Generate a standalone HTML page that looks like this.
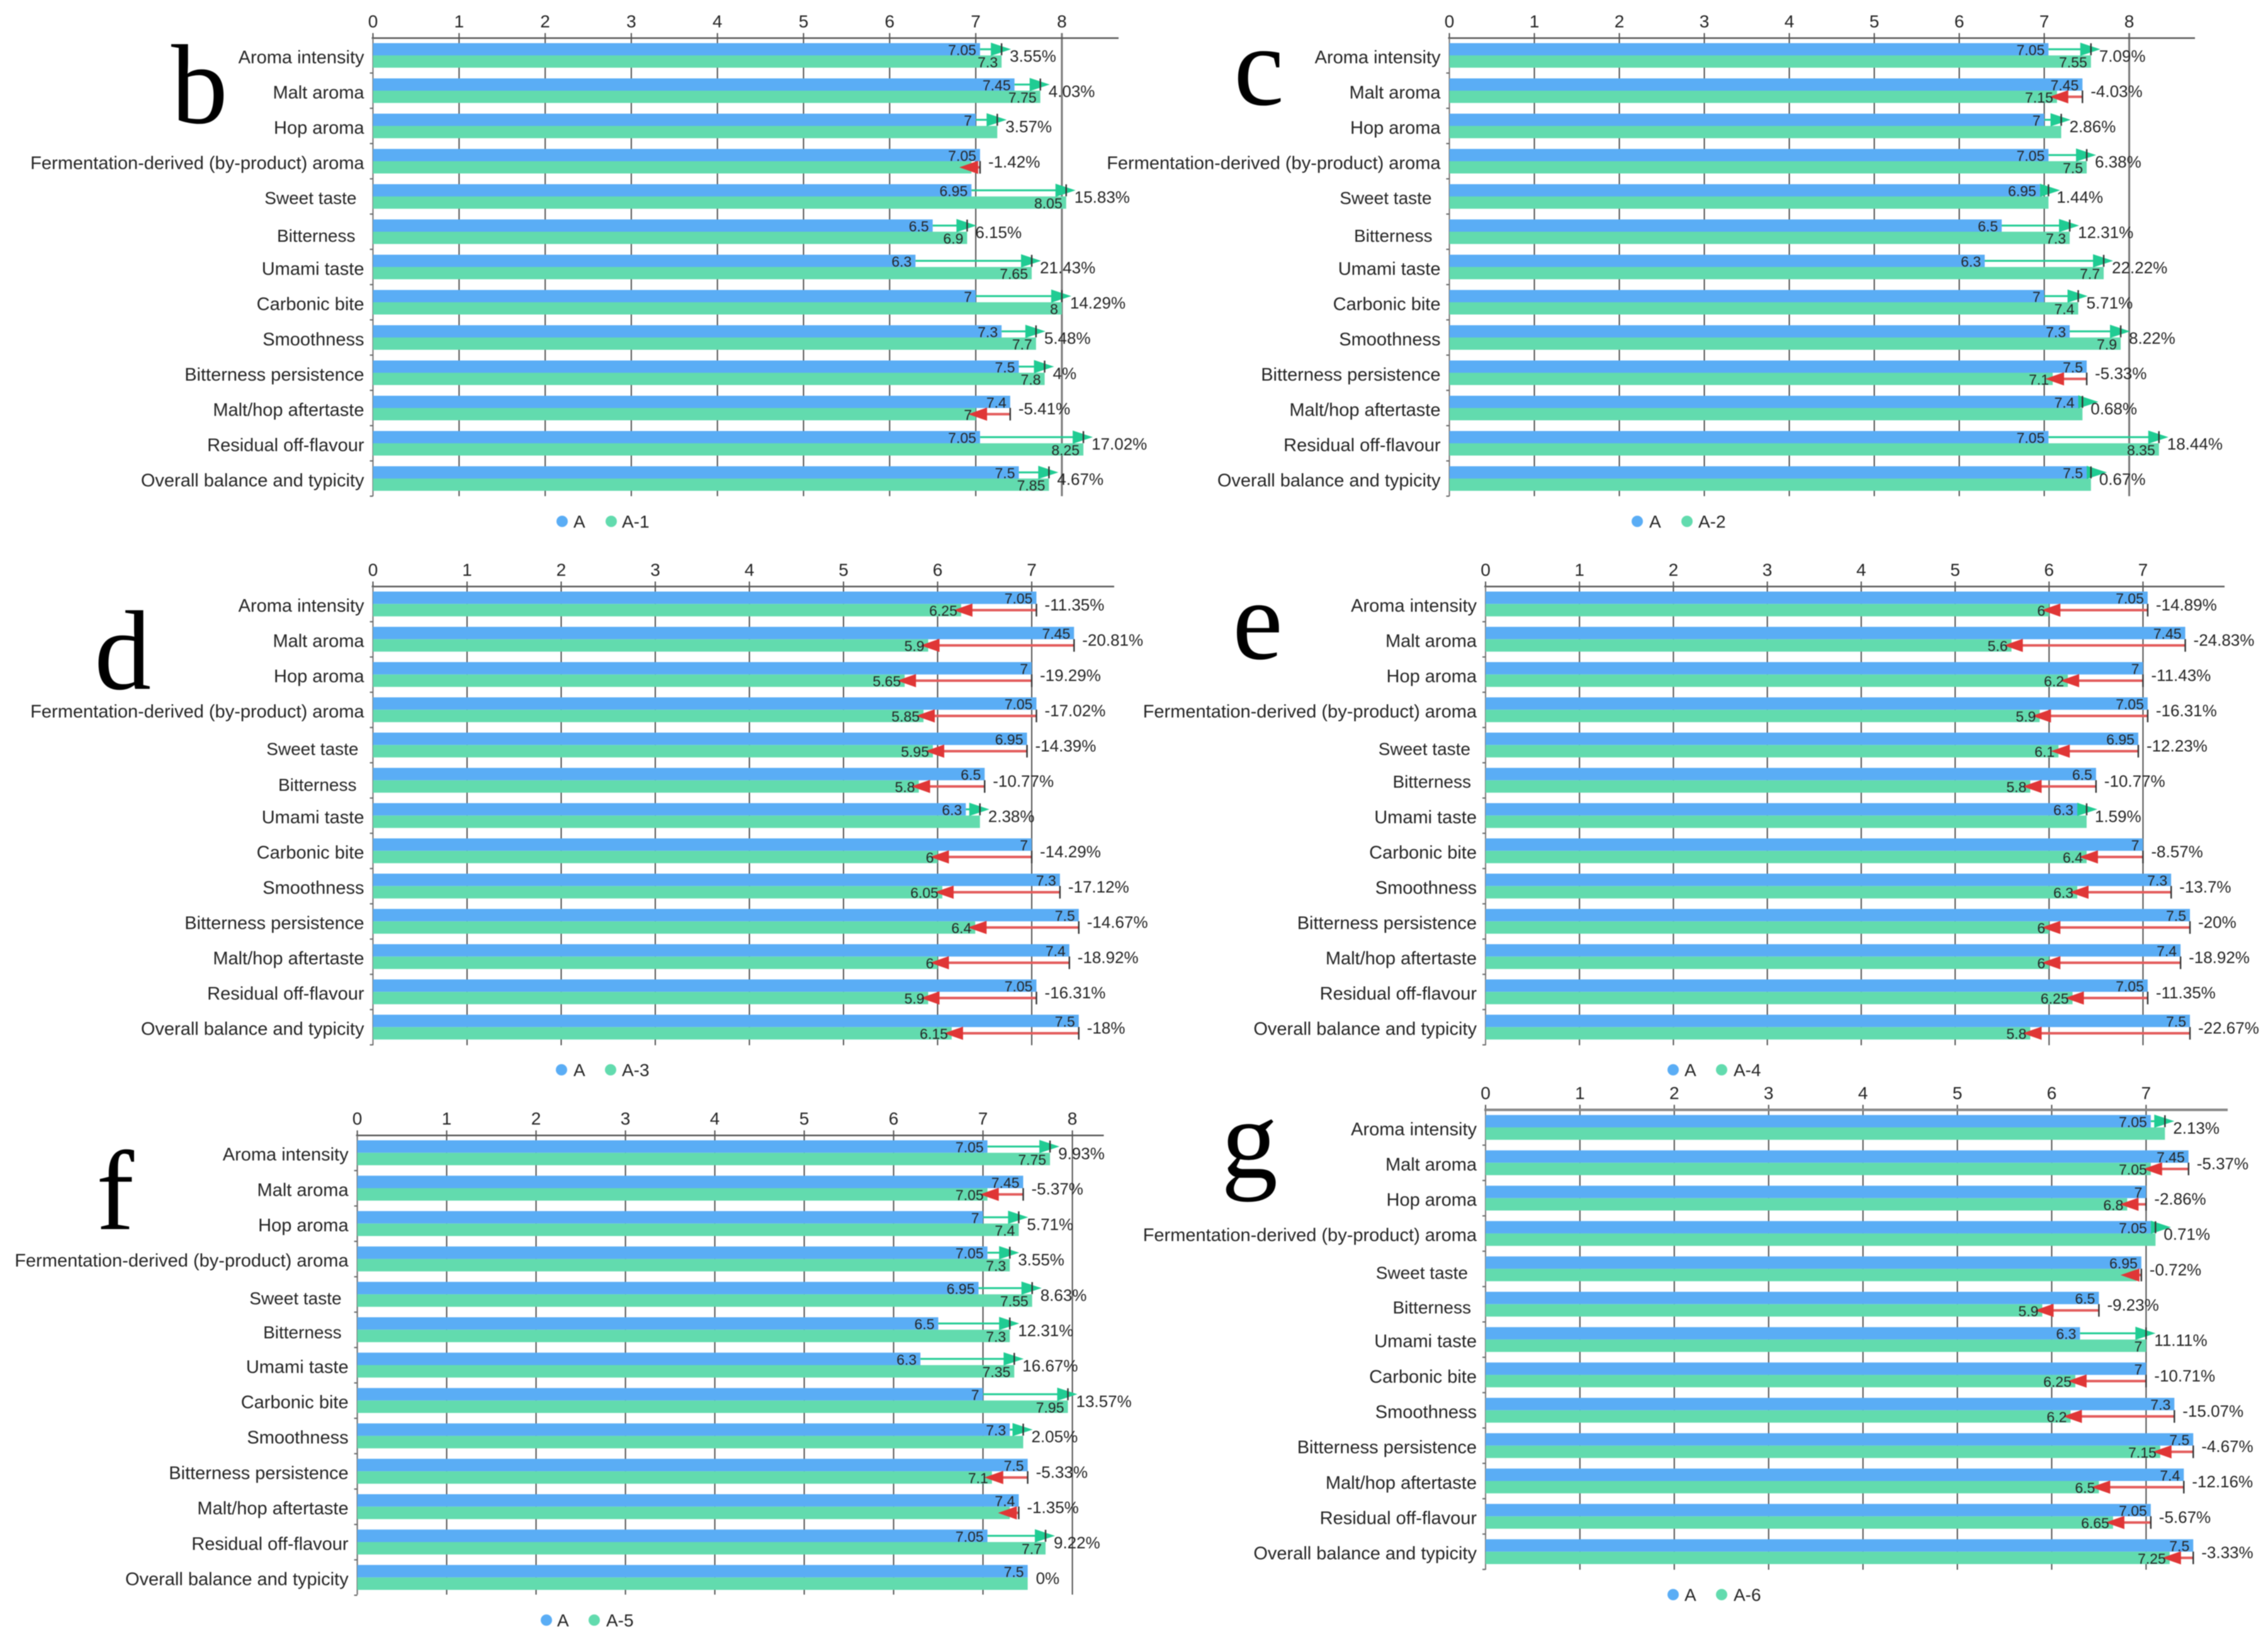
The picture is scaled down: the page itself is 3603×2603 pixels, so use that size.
<!DOCTYPE html>
<html lang="en">
<head>
<meta charset="utf-8">
<title>Sensory profile comparison charts</title>
<style>
html,body{margin:0;padding:0;background:#fff;}
#figure{display:block;filter:blur(0.7px);}
text{font-family:"Liberation Sans",sans-serif;fill:#242424;}
</style>
</head>
<body>
<svg id="figure" xmlns="http://www.w3.org/2000/svg" width="3603" height="2603" viewBox="0 0 3603 2603">
<rect x="0" y="0" width="3603" height="2603" fill="#ffffff"/>
</svg>
<script>
const categories = ["Aroma intensity","Malt aroma","Hop aroma","Fermentation-derived (by-product) aroma","Sweet taste","Bitterness","Umami taste","Carbonic bite","Smoothness","Bitterness persistence","Malt/hop aftertaste","Residual off-flavour","Overall balance and typicity"];
const seriesA = [7.05,7.45,7,7.05,6.95,6.5,6.3,7,7.3,7.5,7.4,7.05,7.5];
const seriesA1 = [7.3,7.75,7.25,6.95,8.05,6.9,7.65,8,7.7,7.8,7,8.25,7.85];
const seriesA2 = [7.55,7.15,7.2,7.5,7.05,7.3,7.7,7.4,7.9,7.1,7.45,8.35,7.55];
const seriesA3 = [6.25,5.9,5.65,5.85,5.95,5.8,6.45,6,6.05,6.4,6,5.9,6.15];
const seriesA4 = [6,5.6,6.2,5.9,6.1,5.8,6.4,6.4,6.3,6,6,6.25,5.8];
const seriesA5 = [7.75,7.05,7.4,7.3,7.55,7.3,7.35,7.95,7.45,7.1,7.3,7.7,7.5];
const seriesA6 = [7.2,7.05,6.8,7.1,6.9,5.9,7,6.25,6.2,7.15,6.5,6.65,7.25];
const pctA1 = ["3.55%","4.03%","3.57%","-1.42%","15.83%","6.15%","21.43%","14.29%","5.48%","4%","-5.41%","17.02%","4.67%"];
const pctA2 = ["7.09%","-4.03%","2.86%","6.38%","1.44%","12.31%","22.22%","5.71%","8.22%","-5.33%","0.68%","18.44%","0.67%"];
const pctA3 = ["-11.35%","-20.81%","-19.29%","-17.02%","-14.39%","-10.77%","2.38%","-14.29%","-17.12%","-14.67%","-18.92%","-16.31%","-18%"];
const pctA4 = ["-14.89%","-24.83%","-11.43%","-16.31%","-12.23%","-10.77%","1.59%","-8.57%","-13.7%","-20%","-18.92%","-11.35%","-22.67%"];
const pctA5 = ["9.93%","-5.37%","5.71%","3.55%","8.63%","12.31%","16.67%","13.57%","2.05%","-5.33%","-1.35%","9.22%","0%"];
const pctA6 = ["2.13%","-5.37%","-2.86%","0.71%","-0.72%","-9.23%","11.11%","-10.71%","-15.07%","-4.67%","-12.16%","-5.67%","-3.33%"];
const hiddenLabelsA1 = [2,3];
const hiddenLabelsA2 = [2,4,10,12];
const hiddenLabelsA3 = [6];
const hiddenLabelsA4 = [6];
const hiddenLabelsA5 = [8,10,12];
const hiddenLabelsA6 = [0,3,4];
const ticksToEight = [0,1,2,3,4,5,6,7,8];
const ticksToSeven = [0,1,2,3,4,5,6,7];

const BLUE = "#5aadf5", GREEN = "#62dbae", ARROW_GREEN = "#20cc93", ARROW_RED = "#e03636", LINE_RED = "#e35c5c", DARK = "#333333";
const svg = document.getElementById("figure");
const NS = "http://www.w3.org/2000/svg";

function mk(tag, attrs, parent) {
  const el = document.createElementNS(NS, tag);
  for (const k in attrs) el.setAttribute(k, attrs[k]);
  parent.appendChild(el);
  return el;
}
function txt(str, x, cy, size, anchor, parent, family) {
  const el = mk("text", {x: x, y: cy + size * 0.355, "font-size": size, "text-anchor": anchor}, parent);
  if (family) el.style.fontFamily = family;
  el.textContent = str;
  return el;
}

function drawPanel(p) {
  const xs = v => p.x0 + v * p.unit;
  const rowTop = i => p.barTop + i * p.pitch;
  const barH = p.barH;
  const g = mk("g", {}, svg);
  
  

  const letter = mk("text", {x: p.letterX, y: p.letterY, "font-size": 180, "text-anchor": "start"}, g);
  letter.style.fontFamily = '"Liberation Serif",serif';
  letter.style.fill = "#000";
  letter.textContent = p.letter;
  
  

  p.ticks.forEach((t, ti) => {
    const last = p.strongLast && ti === p.ticks.length - 1;
    const grid = mk("line", {x1: xs(t), x2: xs(t), y1: p.axisY - 8, y2: p.bottomY, stroke: last ? "#777" : "#505050", "stroke-width": last ? 3 : 2}, g);
    
    
    const lab = txt(String(t), xs(t), p.axisY - 27, 28, "middle", g);
    
    
  });

  const axis = mk("line", {x1: p.x0 - 2, x2: p.axisRight, y1: p.axisY, y2: p.axisY, stroke: p.heavyAxis ? "#888" : "#555", "stroke-width": p.heavyAxis ? 4 : 2.5}, g);
  
  

  const yAxis = mk("line", {x1: p.x0, x2: p.x0, y1: p.axisY, y2: p.bottomY, stroke: "#777", "stroke-width": 2}, g);
  
  

  categories.forEach((c, i) => {
    const top = rowTop(i);
    const mid = top + barH;
    const a = seriesA[i], b = p.values[i];

    const tick = mk("line", {x1: p.x0 - 5, x2: p.x0, y1: top + 2 * barH + 8.5, y2: top + 2 * barH + 8.5, stroke: "#666", "stroke-width": 2}, g);
    
    

    const shift = c === "Sweet taste" ? p.sweet : c === "Bitterness" ? p.bitter : [0, 0];
    const narrow = c === "Sweet taste" || c === "Bitterness";
    const cat = txt(c, p.x0 - 14 - shift[0], mid + 2 + shift[1], narrow ? 28 : 29, "end", g);
    
    

    const barA = mk("rect", {x: p.x0, y: top, width: xs(a) - p.x0, height: barH, fill: BLUE}, g);
    
    

    const barB = mk("rect", {x: p.x0, y: mid, width: xs(b) - p.x0, height: barH, fill: GREEN}, g);
    
    

    if (b > a) {
      const cy = top + barH / 2;
      const base = Math.max(xs(a), xs(b) - 17);
      const tip = base + 32;
      const shaft = mk("line", {x1: xs(a), x2: base + 2, y1: cy, y2: cy, stroke: ARROW_GREEN, "stroke-width": 3}, g);
      
      
      const head = mk("polygon", {points: base + "," + (cy - 10.5) + " " + tip + "," + cy + " " + base + "," + (cy + 10.5), fill: ARROW_GREEN}, g);
      
      
      const cap = mk("line", {x1: xs(b), x2: xs(b), y1: cy - 9.5, y2: cy + 9.5, stroke: DARK, "stroke-width": 2.4}, g);
      
      
    } else if (b < a) {
      const cy = mid + barH / 2;
      const tip = Math.min(xs(b) - 12, xs(a) - 33);
      const base = tip + 30;
      const shaft = mk("line", {x1: base - 2, x2: xs(a), y1: cy, y2: cy, stroke: LINE_RED, "stroke-width": 4}, g);
      
      
      const head = mk("polygon", {points: base + "," + (cy - 10.5) + " " + tip + "," + cy + " " + base + "," + (cy + 10.5), fill: ARROW_RED}, g);
      
      
      const cap = mk("line", {x1: xs(a), x2: xs(a), y1: cy - 10, y2: cy + 10, stroke: DARK, "stroke-width": 2.4}, g);
      
      
    }

    const la = txt(String(a), xs(a) - 6, top + barH / 2 + 1, 23, "end", g);
    
    

    if (p.hidden.indexOf(i) < 0) {
      const lb = txt(String(b), xs(b) - 6, mid + barH / 2 + 1, 23, "end", g);
      
      
    }

    const pc = txt(p.pct[i], xs(Math.max(a, b)) + 13, mid + 1, 26, "start", g);
    
    
  });

  const L = p.legend;
  const d1 = mk("circle", {cx: L.d1, cy: L.y, r: 9, fill: BLUE}, g);
  
  
  const t1 = txt("A", L.t1, L.y, 28, "start", g);
  
  
  const d2 = mk("circle", {cx: L.d2, cy: L.y, r: 9, fill: GREEN}, g);
  
  
  const t2 = txt(p.series, L.t2, L.y, 28, "start", g);
  
  
}

drawPanel({letter:"b",series:"A-1",values:seriesA1,pct:pctA1,hidden:hiddenLabelsA1,ticks:ticksToEight,x0:592.5,unit:136.8,axisY:60.5,axisRight:1777,barTop:68.5,barH:19.5,pitch:56,bottomY:788,strongLast:true,letterX:272,letterY:195,sweet:[12,0],bitter:[14,4],legend:{y:828,d1:893,t1:911,d2:971,t2:988}});
drawPanel({letter:"c",series:"A-2",values:seriesA2,pct:pctA2,hidden:hiddenLabelsA2,ticks:ticksToEight,x0:2302.5,unit:135,axisY:60.5,axisRight:3487,barTop:68.5,barH:19.5,pitch:56,bottomY:788,strongLast:true,letterX:1960,letterY:166,sweet:[14,0],bitter:[13,4],legend:{y:828,d1:2601,t1:2620,d2:2680,t2:2698}});
drawPanel({letter:"d",series:"A-3",values:seriesA3,pct:pctA3,hidden:hiddenLabelsA3,ticks:ticksToSeven,x0:592.5,unit:149.5,axisY:931.5,axisRight:1770,barTop:939.5,barH:19.7,pitch:56,bottomY:1660,strongLast:false,letterX:150,letterY:1094,sweet:[9,4],bitter:[12,5],legend:{y:1699,d1:892,t1:911,d2:970,t2:988}});
drawPanel({letter:"e",series:"A-4",values:seriesA4,pct:pctA4,hidden:hiddenLabelsA4,ticks:ticksToSeven,x0:2360,unit:149.2,axisY:931.5,axisRight:3534,barTop:939.5,barH:19.7,pitch:56,bottomY:1660,strongLast:false,letterX:1958,letterY:1046,sweet:[10,4],bitter:[9,0],legend:{y:1699,d1:2658,t1:2676,d2:2735,t2:2754}});
drawPanel({letter:"f",series:"A-5",values:seriesA5,pct:pctA5,hidden:hiddenLabelsA5,ticks:ticksToEight,x0:567.6,unit:142,axisY:1803.3,axisRight:1753.5,barTop:1811,barH:19.8,pitch:56.2,bottomY:2532.5,strongLast:false,letterX:153,letterY:1952,sweet:[11,4],bitter:[11,2],legend:{y:2573,d1:868,t1:885,d2:944,t2:963}});
drawPanel({letter:"g",series:"A-6",values:seriesA6,pct:pctA6,hidden:hiddenLabelsA6,ticks:ticksToSeven,x0:2360,unit:149.9,axisY:1762.6,axisRight:3539,barTop:1770.8,barH:19.7,pitch:56.15,bottomY:2493,strongLast:false,heavyAxis:true,letterX:1940,letterY:1870,sweet:[14,4],bitter:[9,3],legend:{y:2532.5,d1:2658,t1:2676,d2:2735,t2:2754}});
</script>
</body>
</html>
